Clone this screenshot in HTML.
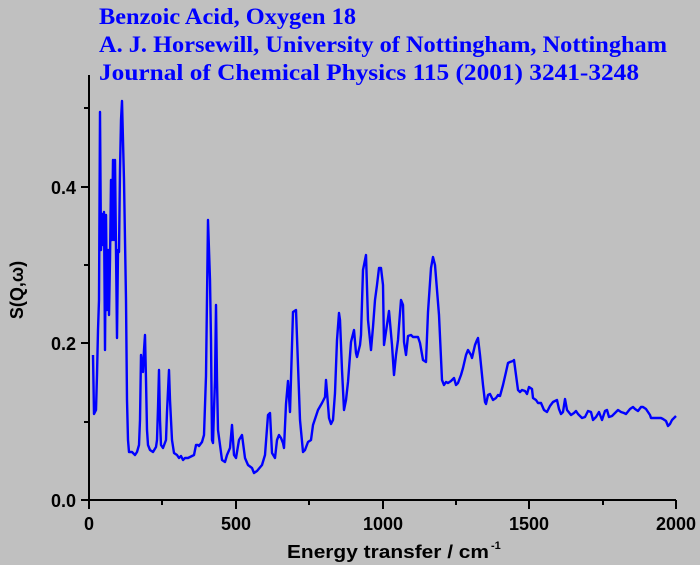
<!DOCTYPE html>
<html><head><style>
html,body{margin:0;padding:0;background:#c0c0c0;}
svg{display:block;}
</style></head><body>
<svg width="700" height="565" xmlns="http://www.w3.org/2000/svg">
<rect width="700" height="565" fill="#c0c0c0"/>
<g font-family="Liberation Serif, serif" font-weight="bold" font-size="23" fill="#0000ff">
<text x="99" y="24" textLength="257" lengthAdjust="spacingAndGlyphs">Benzoic Acid, Oxygen 18</text>
<text x="99" y="52" textLength="568" lengthAdjust="spacingAndGlyphs">A. J. Horsewill, University of Nottingham, Nottingham</text>
<text x="99" y="80" textLength="540" lengthAdjust="spacingAndGlyphs">Journal of Chemical Physics 115 (2001) 3241-3248</text>
</g>
<g stroke="#000" stroke-width="2" fill="none">
<path d="M89,75 V500 H676"/>
<path d="M81,500H89M81,343H89M81,187H89M84,422H89M84,265H89M84,108H89"/>
<path d="M89,500V509M236,500V509M383,500V509M529,500V509M676,500V509M162,500V505M309,500V505M456,500V505M603,500V505"/>
</g>
<g font-family="Liberation Sans, sans-serif" font-weight="bold" font-size="18" fill="#000">
<text x="76" y="507" text-anchor="end">0.0</text>
<text x="76" y="350" text-anchor="end">0.2</text>
<text x="76" y="194" text-anchor="end">0.4</text>
<text x="89" y="530" text-anchor="middle">0</text>
<text x="236" y="530" text-anchor="middle">500</text>
<text x="383" y="530" text-anchor="middle">1000</text>
<text x="529" y="530" text-anchor="middle">1500</text>
<text x="676" y="530" text-anchor="middle">2000</text>
<text x="287" y="558" textLength="202" lengthAdjust="spacingAndGlyphs">Energy transfer / cm</text>
<text x="491" y="549" font-size="11">-1</text>
<text transform="translate(23,290) rotate(-90)" text-anchor="middle">S(Q,ω)</text>
</g>
<polyline fill="none" stroke="#0000ff" stroke-width="2.4" stroke-linejoin="round" points="
93,355 94,414 96,410 97,375 98,330 99,300 100,112 101,250 102,214 103,245 104,212 105,350 106,215 107,310 108,250 109,315 110,260 111,180 112,240 113,160 114,240 115,160 116,250 117,338 118,250 119,252 120,170 121,120 122,101 124,180 126,300 127,400 128,440 129,452 132,452 135,455 137,452 139,445 140,420 141,355 142,365 143,372 144,350 145,335 146,380 147,430 148,445 150,450 153,452 156,447 157,440 158,408 159,370 160,420 161,445 163,448 166,440 167,412 169,370 170,400 172,440 174,453 177,455 179,458 181,456 183,460 185,458 188,458 194,455 196,445 198,445 199,446 202,442 204,435 206,376 208,220 210,280 211,340 212,440 213,443 214,410 215,380 216,305 217,380 218,430 220,445 222,460 225,462 227,455 230,448 232,425 234,455 236,458 239,440 242,435 245,458 248,465 252,468 254,473 257,471 262,465 265,455 268,415 270,413 272,453 275,458 277,440 279,435 281,438 283,443 284,448 286,404 288,381 290,412 293,312 296,310 300,420 303,452 305,450 308,442 311,440 313,425 318,410 322,403 325,397 326,380 327,392 329,418 331,424 333,420 335,393 337,340 339,313 340,320 342,370 344,410 346,400 348,382 351,342 354,330 356,353 357,357 360,345 361,335 363,270 366,255 368,320 371,350 373,327 375,300 377,285 379,268 381,268 383,285 384,345 388,318 389,311 392,345 394,375 396,355 398,340 399,326 401,300 403,305 404,342 406,355 408,336 411,335 413,337 418,337 420,343 423,360 426,362 428,312 431,268 433,257 435,265 439,315 442,380 444,385 446,382 448,383 451,381 454,378 456,385 458,383 461,375 463,368 466,355 468,350 471,355 472,358 475,345 477,340 478,338 480,355 483,385 485,402 486,404 488,395 490,394 493,400 496,398 498,395 500,396 503,385 506,372 508,363 510,362 513,361 514,360 518,390 520,392 522,390 525,391 527,394 529,387 532,389 533,398 536,400 538,403 541,403 544,410 547,412 550,406 553,402 557,400 559,409 561,414 563,412 565,399 567,410 571,415 574,413 576,411 578,414 582,418 585,417 588,411 591,412 593,420 596,417 599,412 602,420 605,411 607,410 609,417 612,416 616,412 618,410 621,412 624,413 626,414 630,409 633,407 635,409 638,411 641,407 643,407 646,409 650,415 651,418 658,418 661,418 663,419 666,421 668,426 670,424 672,420 676,416"/>
</svg>
</body></html>
